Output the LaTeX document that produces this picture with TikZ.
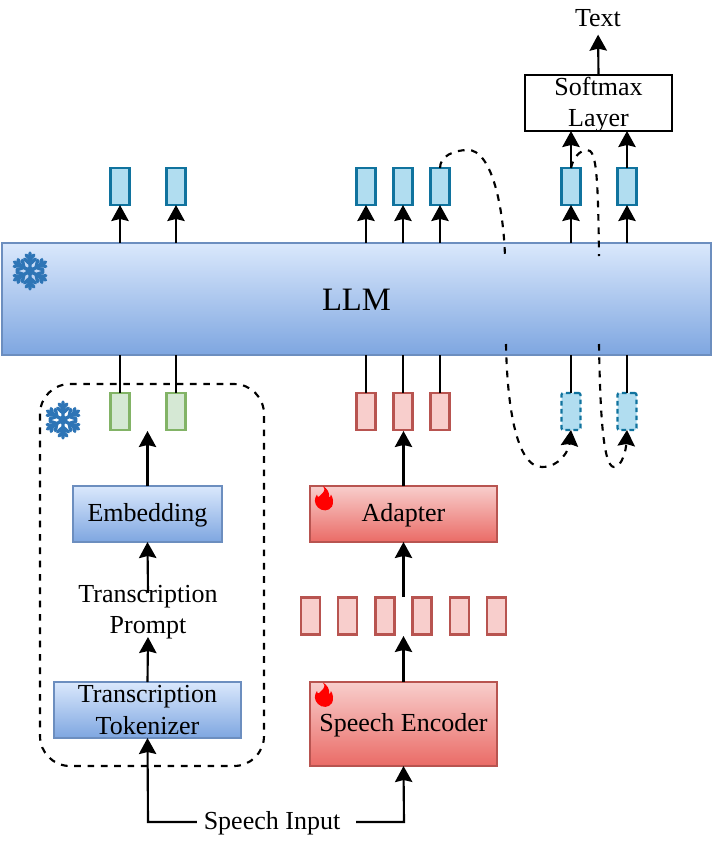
\documentclass[tikz,border=0pt]{standalone}
\usepackage{fontspec}
\setmainfont{Liberation Serif}
\usetikzlibrary{arrows.meta, positioning, calc}
\definecolor{frozenblue}{HTML}{DAE8FC}
\definecolor{frozendeep}{HTML}{7EA6E0}
\definecolor{frozenline}{HTML}{6C8EBF}
\definecolor{trainred}{HTML}{F8CECC}
\definecolor{traindeep}{HTML}{EA6B66}
\definecolor{trainline}{HTML}{B85450}
\definecolor{tokgreen}{HTML}{D5E8D4}
\definecolor{tokgreenline}{HTML}{82B366}
\definecolor{tokcyan}{HTML}{B1DDF0}
\definecolor{tokcyanline}{HTML}{10739E}
\definecolor{flakeblue}{HTML}{2E75B6}
\newcommand{\nudge}[1]{\rule{0pt}{#1}}
\tikzset{
  frozenbox/.style={draw=frozenline, top color=frozenblue, bottom color=frozendeep,
    line width=1.5pt, inner sep=0pt, outer sep=0pt, align=center, font=\fontsize{19.5}{23.5}\selectfont},
  trainbox/.style={frozenbox, draw=trainline, top color=trainred, bottom color=traindeep},
  plainbox/.style={draw=black, fill=white, line width=1.6pt, inner xsep=0pt, inner ysep=-3pt, outer sep=0pt,
    align=center, font=\fontsize{19.5}{23.5}\selectfont},
  textlabel/.style={inner sep=0pt, outer sep=0pt, align=center, font=\fontsize{19.5}{23.5}\selectfont},
  token/.style={draw, line width=1.7pt, minimum width=14.25pt, minimum height=27.75pt,
    inner sep=0pt, outer sep=0pt},
  cyantok/.style={token, draw=tokcyanline, fill=tokcyan},
  greentok/.style={token, draw=tokgreenline, fill=tokgreen},
  redtok/.style={token, draw=trainline, fill=trainred},
  hiddentok/.style={cyantok, dash pattern=on 3.5pt off 2.5pt, rounded corners=1.5pt},
  plainline/.style={draw=black, line width=1.6pt},
  arrowline/.style={plainline, -{Stealth[length=12pt, width=13pt, inset=1.5pt]}},
  dashline/.style={draw=black, line width=1.6pt, dash pattern=on 5pt off 5pt},
  dasharrow/.style={dashline, -{Stealth[length=12pt, width=13pt, inset=1.5pt]}},
  pics/flake/.style={code={
    \fill[flakeblue] (0,0) circle (4.5);
    \foreach \a in {30,90,150,210,270,330}{
      \begin{scope}[rotate=\a]
        \draw[flakeblue, line width=2.5pt, line cap=round]
          (0,0) -- (18,0) (7,0) -- (12,5.5) (7,0) -- (12,-5.5)
          (12,0) -- (16,4) (12,0) -- (16,-4);
      \end{scope}
    }
  }},
  pics/flame/.style={code={
    \fill[red] (-1,-12.5) .. controls (3,-8) and (-2,-5) .. (-5,-2)
      .. controls (-6,-1) and (-7,-2) .. (-7,-4)
      .. controls (-10,0) and (-10,5) .. (-6,9)
      .. controls (-2,13) and (5,13) .. (8,8)
      .. controls (10,4) and (9,-1) .. (7,-4)
      .. controls (6.5,-2) and (6,-1) .. (5,-1)
      .. controls (6,-6) and (3,-10) .. (-1,-12.5) -- cycle;
  }}
}

\begin{document}
\begin{tikzpicture}[x=0.75pt, y=-0.75pt]
  \useasboundingbox (0,0) rectangle (714,854);

  \node[frozenbox, minimum width=531.75pt, minimum height=84pt, font=\fontsize{24.5}{29}\selectfont]
    (llm) at (356.5,299) {\nudge{17.5pt}LLM};
  \pic at (30,271) {flake};

  \draw[dashline, rounded corners=22.5pt] (40,384) rectangle (264,766);
  \pic at (63,420) {flake};

  % output tokens
  \node[cyantok] (outa) at (120,186.5) {};
  \node[cyantok] (outb) at (176,186.5) {};
  \node[cyantok] (outc) at (366,186.5) {};
  \node[cyantok] (outd) at (403,186.5) {};
  \node[cyantok] (oute) at (440,186.5) {};
  \node[cyantok] (outf) at (571,186.5) {};
  \node[cyantok] (outg) at (627,186.5) {};

  % input tokens
  \node[greentok] (ina) at (120,411.5) {};
  \node[greentok] (inb) at (176,411.5) {};
  \node[redtok] (inc) at (366,411.5) {};
  \node[redtok] (ind) at (403,411.5) {};
  \node[redtok] (ine) at (440,411.5) {};
  \node[hiddentok] (inf) at (571,411.5) {};
  \node[hiddentok] (ing) at (627,411.5) {};

  % speech features
  \node[redtok] (feata) at (310.5,616) {};
  \node[redtok] (featb) at (347.5,616) {};
  \node[redtok] (featc) at (385,616) {};
  \node[redtok] (featd) at (422,616) {};
  \node[redtok] (feate) at (459.5,616) {};
  \node[redtok] (featf) at (496.5,616) {};

  \node[frozenbox, minimum width=111.75pt, minimum height=42pt] (embed) at (147.5,514) {\nudge{15.5pt}Embedding};
  \node[frozenbox, minimum width=140.25pt, minimum height=42pt] (tokenizer) at (147.5,710)
    {Transcription\\Tokenizer};
  \node[textlabel] (prompt) at (148,612) {Transcription\\Prompt};

  \node[trainbox, minimum width=140.25pt, minimum height=42pt] (adapter) at (403.5,514) {\nudge{15.5pt}Adapter};
  \node[trainbox, minimum width=140.25pt, minimum height=63pt] (encoder) at (403.5,724) {\nudge{15.5pt}Speech Encoder};
  \pic at (324,498.5) {flame};
  \pic at (324,695) {flame};

  \node[plainbox, minimum width=110.25pt, minimum height=42pt] (softmax) at (598.5,103) {\nudge{16pt}Softmax\\Layer};
  \node[textlabel] (text) at (598,18) {Text};
  \node[textlabel] (speech) at (272,823) {Speech Input};

  \coordinate (joinl) at (148,822);
  \coordinate (joinr) at (404,822);

  \foreach \n in {outa,outb,outc,outd,oute,outf,outg}
    \draw[arrowline] (llm.north -| \n) -- (\n.south);
  \foreach \n in {ina,inb,inc,ind,ine,inf,ing}
    \draw[plainline] (\n.north) -- (llm.south -| \n);

  \draw[arrowline] (outf.north) -- (softmax.south -| outf);
  \draw[arrowline] (outg.north) -- (softmax.south -| outg);
  \draw[arrowline, shorten >=6pt] (softmax.north) -- (text.south);

  \draw[arrowline] (embed.north) -- ($(embed.north)+(0,-55)$);
  \draw[arrowline] (prompt.north) ++(0,8) -- (embed.south);
  \draw[arrowline] (tokenizer.north) -- ($(prompt.south)+(0,-2)$);
  \draw[arrowline] (speech.west |- joinl) ++(-7,0) -- (joinl) -- (tokenizer.south);
  \draw[arrowline] (speech.east |- joinr) ++(16,0) -- (joinr) -- (encoder.south);
  \draw[arrowline] (encoder.north) -- ($(encoder.north)+(0,-46)$);
  \draw[arrowline] ($(adapter.south)+(0,55)$) -- (adapter.south);
  \draw[arrowline] (adapter.north) -- ($(adapter.north)+(0,-55)$);

  % skip curves, cut where they run behind the LLM
  \coordinate (skipa) at (505,256);
  \coordinate (skipb) at (506,344);
  \coordinate (skipc) at (599,256);
  \coordinate (skipd) at (599,344);
  \draw[dashline] (oute.north) .. controls (440,156) and (454,150) .. (468,150)
    .. controls (490,150) and (503,200) .. (skipa);
  \draw[dasharrow] (skipb) .. controls (507,400) and (515,467) .. (542,467)
    .. controls (560,467) and (569,450) .. (inf.south);
  \draw[dashline] (outf.north) .. controls (573,158) and (580,150) .. (587,150)
    .. controls (596,150) and (598,170) .. (skipc);
  \draw[dasharrow] (skipd) .. controls (600,400) and (602,467) .. (614,467)
    .. controls (622,467) and (626,450) .. (ing.south);
\end{tikzpicture}
\end{document}
